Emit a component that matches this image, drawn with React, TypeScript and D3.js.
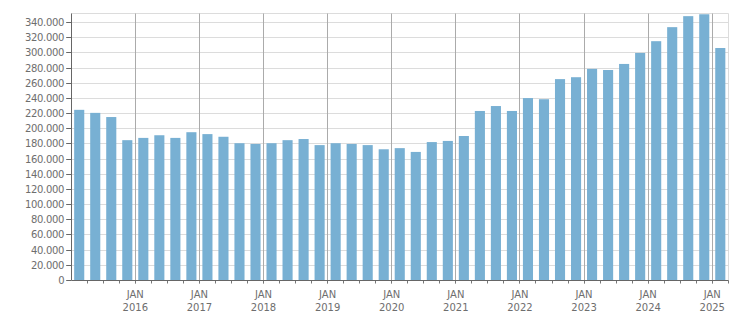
import React from "react";
import * as d3 from "d3";

// Quarterly values (in thousands), Q1 2015 .. Q1 2025
const quarters: string[] = [];
for (let yr = 2015; yr <= 2025; yr++) {
  for (let q = 1; q <= 4; q++) {
    if (yr === 2025 && q > 1) break;
    quarters.push(`${yr}Q${q}`);
  }
}
const values: number[] = [
  225, 221, 215.5, 185,
  188, 191.5, 188, 195.5,
  193, 189.5, 181, 180,
  181, 185, 186.5, 178.5,
  181, 180, 178.5, 173,
  174.5, 169.5, 182.5, 184,
  190.5, 223.5, 230, 223.5,
  240.5, 239, 265.5, 268,
  279, 277.5, 285.5, 300,
  315.5, 334, 348.5, 351,
  306.5,
];
const yTicks: number[] = d3.range(0, 341, 20);
const yearLabels: string[] = ["2016", "2017", "2018", "2019", "2020", "2021", "2022", "2023", "2024", "2025"];
const monthLabel = "JAN";

const W = 751;
const H = 313;
const left = 71.2;
const right = 728.3;
const top = 13.5;
const bottom = 280.5;

const fmt = d3.formatLocale({ decimal: ",", thousands: ".", grouping: [3], currency: ["", ""] }).format(",");

export default function App() {
  const x = d3
    .scaleBand<string>()
    .domain(quarters)
    .range([left, right])
    .paddingInner(0.37)
    .paddingOuter(0.185);
  const y = d3.scaleLinear().domain([0, 352]).range([bottom, top]);
  const step = x.step();
  const boundary = (i: number) => (x(quarters[Math.min(i, quarters.length - 1)]) as number) - step * 0.185 + (i >= quarters.length ? step : 0);
  const font = "Tahoma, 'DejaVu Sans', Verdana, sans-serif";
  const textColor = "#6e6e6e";
  const crisp = (v: number) => Math.round(v - 0.5) + 0.5;

  return (
    <svg width={W} height={H} style={{ position: "absolute", left: 0, top: 0, background: "#fff" }}>
      {/* horizontal grid */}
      {yTicks.map((t) => (
        <line key={"g" + t} x1={left} x2={right} y1={crisp(y(t))} y2={crisp(y(t))} stroke="#dcdcdc" strokeWidth={1} />
      ))}
      {/* top & right border */}
      <line x1={left} x2={crisp(right)} y1={top} y2={top} stroke="#dcdcdc" />
      <line x1={crisp(right)} x2={crisp(right)} y1={top} y2={bottom} stroke="#dcdcdc" />
      {/* vertical year grid lines */}
      {yearLabels.map((_, k) => {
        const xv = crisp(boundary((k + 1) * 4));
        return <line key={"v" + k} x1={xv} x2={xv} y1={top} y2={bottom + 3} stroke="#ababab" strokeWidth={1} />;
      })}
      {/* bars */}
      {values.map((v, i) => (
        <rect
          key={quarters[i]}
          x={x(quarters[i])}
          width={x.bandwidth()}
          y={y(v)}
          height={y(0) - y(v)}
          fill="#78b0d3"
        />
      ))}
      {/* quarter ticks */}
      {d3.range(1, quarters.length + 1).map((i) => {
        const xv = crisp(boundary(i));
        return <line key={"t" + i} x1={xv} x2={xv} y1={bottom} y2={bottom + 3} stroke="#777" />;
      })}
      {/* axes */}
      <line x1={crisp(left)} x2={crisp(left)} y1={top} y2={bottom} stroke="#666" />
      <line x1={crisp(left)} x2={crisp(right)} y1={bottom} y2={bottom} stroke="#666" />
      {/* y ticks & labels */}
      {yTicks.map((t) => (
        <g key={"yl" + t}>
          <line x1={left - 5} x2={left} y1={crisp(y(t))} y2={crisp(y(t))} stroke="#666" />
          <text
            x={left - 7}
            y={y(t)}
            dy="0.35em"
            textAnchor="end"
            fontFamily={font}
            fontSize={10}
            letterSpacing={-0.3}
            fill={textColor}
          >
            {fmt(t * 1000)}
          </text>
        </g>
      ))}
      {/* x labels */}
      {yearLabels.map((yl, k) => {
        const xv = boundary((k + 1) * 4);
        return (
          <g key={"xl" + yl}>
            <text x={xv} y={298} textAnchor="middle" fontFamily={font} fontSize={10} fill={textColor}>
              {monthLabel}
            </text>
            <text x={xv} y={310.5} textAnchor="middle" fontFamily={font} fontSize={10} fill={textColor}>
              {yl}
            </text>
          </g>
        );
      })}
    </svg>
  );
}
